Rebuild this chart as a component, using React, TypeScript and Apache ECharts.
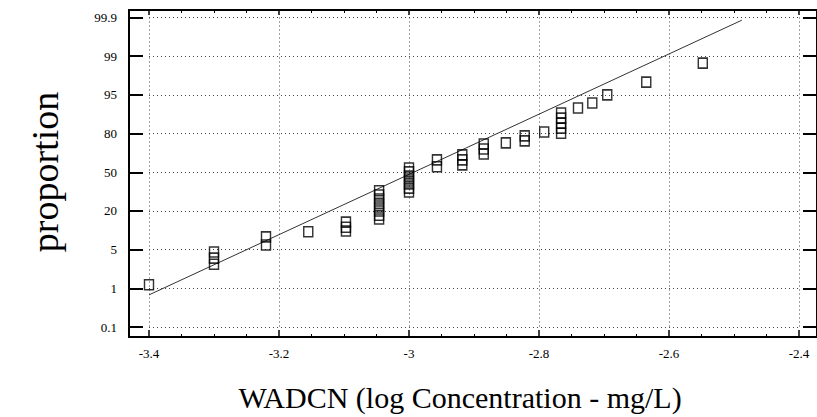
import React, { useEffect, useRef } from "react";
import * as echarts from "echarts";

// Y axis: probability labels, equally spaced (index 0..8)
const yLabels = ["0.1", "1", "5", "20", "50", "80", "95", "99", "99.9"];

// Observed points: [log concentration, probability position (label index units)]
const pointX = [
  -3.4,
  -3.3, -3.3, -3.3,
  -3.22, -3.22,
  -3.155,
  -3.097, -3.097, -3.097,
  -3.046, -3.046, -3.046, -3.046, -3.046, -3.046, -3.046, -3.046,
  -3.0, -3.0, -3.0, -3.0, -3.0, -3.0, -3.0,
  -2.957, -2.957,
  -2.918, -2.918, -2.918,
  -2.885, -2.885, -2.885,
  -2.851,
  -2.822, -2.822,
  -2.792,
  -2.766, -2.766, -2.766, -2.766, -2.766,
  -2.74,
  -2.718,
  -2.695,
  -2.635,
  -2.548,
];
const pointY = [
  1.09,
  1.94, 1.78, 1.62,
  2.33, 2.12,
  2.46,
  2.71, 2.58, 2.48,
  3.52, 3.41, 3.31, 3.2, 3.1, 3.0, 2.89, 2.79,
  4.11, 4.01, 3.9, 3.8, 3.7, 3.59, 3.49,
  4.32, 4.14,
  4.45, 4.32, 4.19,
  4.73, 4.6, 4.47,
  4.76,
  4.94, 4.81,
  5.04,
  5.53, 5.4, 5.27, 5.14, 5.01,
  5.66,
  5.79,
  6.0,
  6.33,
  6.82,
];

// Fitted line endpoints
const lineX = [-3.4, -2.488];
const lineY = [0.83, 7.93];

const FONT = "Liberation Serif";

export default function App() {
  const ref = useRef<HTMLDivElement>(null);

  useEffect(() => {
    if (!ref.current) return;
    const chart = echarts.init(ref.current, undefined, { renderer: "svg" });

    const dotted = { show: true, lineStyle: { color: "#444", width: 1, type: [1, 3] as any } };
    const black = (w: number) => ({ color: "#000", width: w });

    const dataX = (position: string, offset: number, len: number, withSplit: boolean, withLabel: boolean) => ({
      gridIndex: 0, type: "value", position, offset, min: -3.4, max: -2.4, interval: 0.2,
      axisLine: { show: false, onZero: false },
      axisTick: { show: true, inside: true, length: len, lineStyle: black(1.5) },
      minorTick: { show: true, splitNumber: 4, length: 3, lineStyle: black(1) },
      axisLabel: withLabel
        ? { show: true, margin: 10 + offset * 0, color: "#000", fontFamily: FONT, fontSize: 13,
            formatter: (v: number) => String(Math.round(v * 10) / 10) }
        : { show: false },
      splitLine: withSplit ? dotted : { show: false },
    });

    const dataY = (position: string, offset: number, withSplit: boolean, withLabel: boolean) => ({
      gridIndex: 0, type: "value", position, offset, min: 0, max: 8, interval: 1,
      axisLine: { show: false, onZero: false },
      axisTick: { show: true, inside: true, length: 14, lineStyle: black(2) },
      axisLabel: withLabel
        ? { show: true, margin: 12, color: "#000", fontFamily: FONT, fontSize: 13,
            formatter: (v: number) => yLabels[Math.round(v)] ?? "" }
        : { show: false },
      splitLine: withSplit ? dotted : { show: false },
    });

    const frameX = (position: string) => ({
      gridIndex: 1, type: "value", position, min: 0, max: 1,
      axisLine: { show: true, onZero: false, lineStyle: black(2) },
      axisTick: { show: false }, axisLabel: { show: false }, splitLine: { show: false },
    });
    const frameY = (position: string) => ({
      gridIndex: 1, type: "value", position, min: 0, max: 1,
      axisLine: { show: true, onZero: false, lineStyle: black(2) },
      axisTick: { show: false }, axisLabel: { show: false }, splitLine: { show: false },
    });

    const option: any = {
      animation: false,
      backgroundColor: "#fff",
      textStyle: { fontFamily: FONT, fontSize: 13, color: "#000" },
      grid: [
        { left: 149, top: 17.5, width: 650, height: 309.5 },
        { left: 129, top: 10, width: 690, height: 327 },
      ],
      xAxis: [
        dataX("bottom", 10, 7, true, true),
        dataX("top", 7.5, 5, false, false),
        frameX("bottom"),
        frameX("top"),
      ],
      yAxis: [
        dataY("left", 20, true, true),
        dataY("right", 18, false, false),
        frameY("left"),
        frameY("right"),
      ],
      series: [
        {
          type: "line",
          xAxisIndex: 0, yAxisIndex: 0,
          data: lineX.map((x, i) => [x, lineY[i]]),
          showSymbol: false,
          symbol: "none",
          lineStyle: { color: "#333", width: 1 },
          silent: true,
          z: 3,
        },
        {
          type: "scatter",
          xAxisIndex: 0, yAxisIndex: 0,
          data: pointX.map((x, i) => [x, pointY[i]]),
          symbol: "rect",
          symbolSize: [9, 10],
          itemStyle: { color: "rgba(255,255,255,0)", borderColor: "#000", borderWidth: 1.5 },
          z: 4,
        },
      ],
      graphic: [
        {
          type: "text",
          x: 45, y: 172,
          rotation: Math.PI / 2,
          style: {
            text: "proportion",
            fontFamily: FONT, fontSize: 38, fill: "#000",
            textAlign: "center", textVerticalAlign: "middle",
          },
        },
        {
          type: "text",
          x: 460, y: 397,
          style: {
            text: "WADCN (log Concentration - mg/L)",
            fontFamily: FONT, fontSize: 30, fill: "#000",
            textAlign: "center", textVerticalAlign: "middle",
          },
        },
      ],
    };

    chart.setOption(option);
    return () => chart.dispose();
  }, []);

  return (
    <div
      ref={ref}
      style={{ position: "absolute", left: 0, top: 0, width: 817, height: 417, background: "#fff" }}
    />
  );
}
